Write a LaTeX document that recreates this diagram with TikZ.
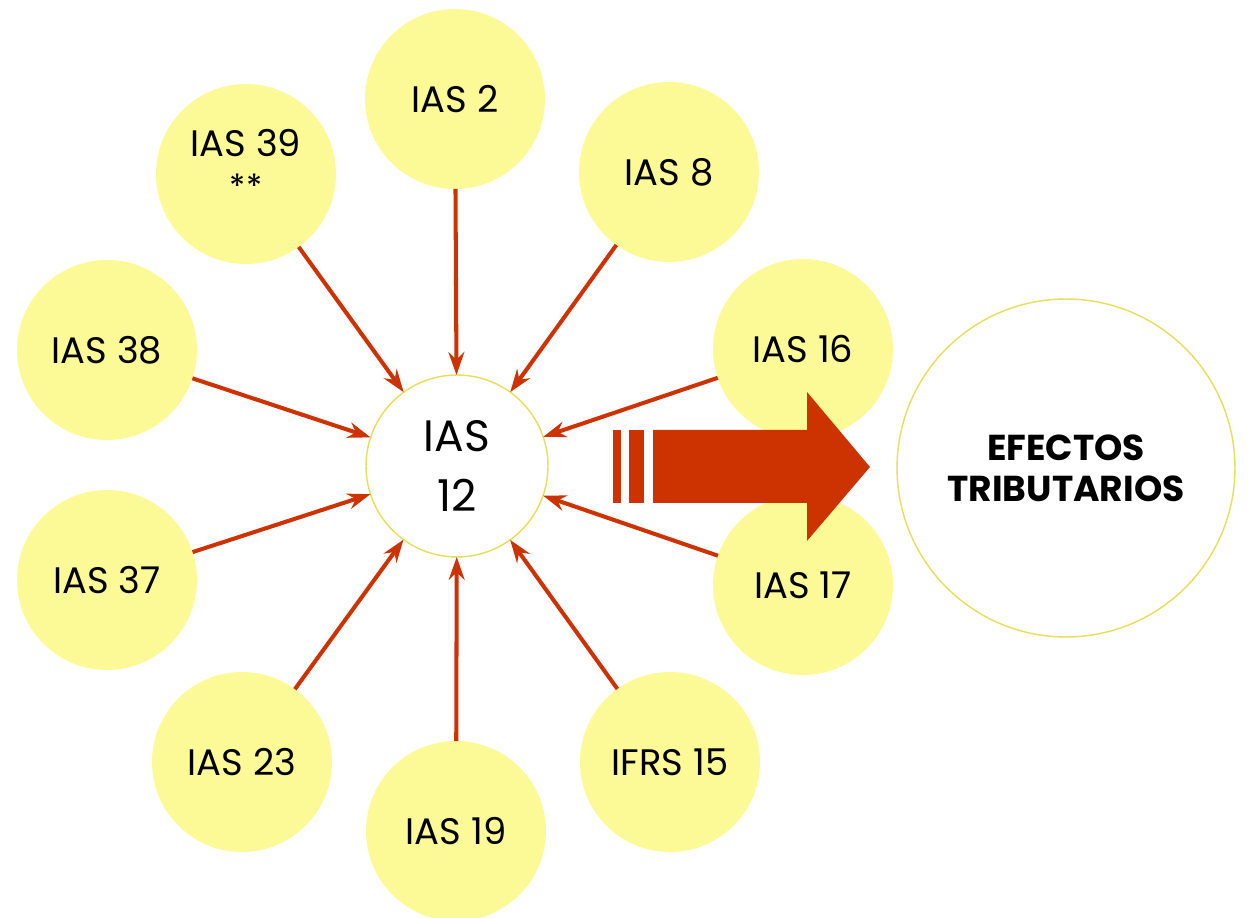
\documentclass[tikz,border=0pt]{standalone}
\usepackage{fontspec}
\setmainfont{Poppins}
\usetikzlibrary{arrows.meta}
\definecolor{satyellow}{RGB}{252,250,150}
\definecolor{ringyellow}{RGB}{232,222,90}
\definecolor{rust}{RGB}{204,51,0}
\begin{document}
\begin{tikzpicture}[x=0.02cm,y=-0.02cm,
  sat/.style={circle,fill=satyellow,minimum size=3.6cm,inner sep=0pt,outer sep=0pt,
    align=center,font=\fontsize{21}{25}\selectfont},
  hub/.style={circle,draw=ringyellow,line width=0.8pt,fill=white,minimum size=3.64cm,
    inner sep=0pt,outer sep=0pt,align=center,font=\fontsize{25}{34}\selectfont},
  goal/.style={circle,draw=ringyellow,line width=0.8pt,fill=white,minimum size=6.76cm,
    inner sep=0pt,outer sep=0pt,align=center,font=\fontsize{20.5}{23.5}\selectfont\bfseries},
  link/.style={draw=rust,line width=2.3pt,-{Stealth[length=13pt,width=9pt]}},
  bigarrow/.style={fill=rust}]
\useasboundingbox (0,0) rectangle (1249,918);
\fill[white] (0,0) rectangle (1249,918);
\node[sat] (ias2) at (455,99) {IAS 2};
\node[sat] (ias8) at (669,172) {IAS 8};
\node[sat] (ias16) at (803,349) {IAS 16};
\node[sat] (ias17) at (803,585) {IAS 17};
\node[sat] (ifrs15) at (670,762) {IFRS 15};
\node[sat] (ias19) at (456,831) {IAS 19};
\node[sat] (ias23) at (242,762) {IAS 23};
\node[sat] (ias37) at (107,580) {IAS 37};
\node[sat] (ias38) at (107,350) {IAS 38};
\node[sat, label={[align=center,font=\fontsize{21}{25}\selectfont,yshift=0.2cm]center:IAS 39\\[-1pt]{\fontsize{19}{19}\selectfont **}}] (ias39) at (246,174) {};
\node[hub] (ias12) at (457,466) {IAS\\12};
\foreach \s in {ias2,ias8,ias16,ias17,ifrs15,ias19,ias23,ias37,ias38,ias39}
  \draw[link] (\s) -- (ias12);
% big striped arrow
\fill[bigarrow] (613,430) rectangle (621,503);
\fill[bigarrow] (629,430) rectangle (644,503);
\fill[bigarrow] (653,430) -- (807,430) -- (807,392) -- (870,467) -- (807,541) -- (807,503) -- (653,503) -- cycle;
\node[goal] (efectos) at (1066,468) {EFECTOS\\TRIBUTARIOS};
\end{tikzpicture}
\end{document}
